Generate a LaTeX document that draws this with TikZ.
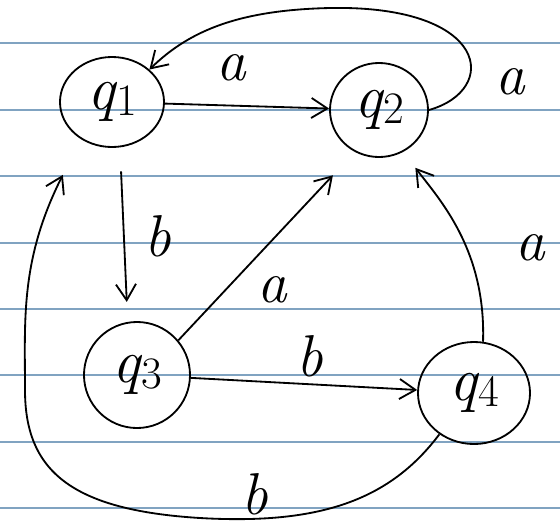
\documentclass[tikz,border=0pt]{standalone}
\usepackage{fontspec}
\usetikzlibrary{arrows.meta,shapes.geometric}

\newcommand{\stname}[1]{q\kern1pt\raisebox{-4pt}{\upshape\fontsize{32}{32}\selectfont #1}}

\begin{document}
\begin{tikzpicture}[
    x=0.025cm, y=-0.025cm,
    >={Straight Barb[length=4mm,width=5mm]},
    line width=1.3pt,
    state/.style={
        draw,
        ellipse,
        inner sep=0pt,
        font=\fontsize{44}{48}\selectfont\itshape
    },
    trans/.style={
        font=\fontsize{42}{46}\selectfont\itshape,
        inner sep=0pt
    }
]

\definecolor{rulecol}{RGB}{128,163,193}

\useasboundingbox (0,0) rectangle (560,529);

\foreach \y in {43,110,176,243,309,375,442,508}
    \draw[rulecol, line width=1.3pt] (0,\y) -- (560,\y);

\node[state, minimum width=2.6cm, minimum height=2.25cm] (q1) at (112,102) {\stname{1}};
\node[state, minimum width=2.45cm, minimum height=2.35cm] (q2) at (379,110) {\stname{2}};
\node[state, minimum width=2.65cm, minimum height=2.65cm] (q3) at (137,375) {\stname{3}};
\node[state, minimum width=2.8cm, minimum height=2.55cm] (q4) at (474,393) {\stname{4}};

\draw[->] (q1) -- (q2);
\draw[->] (q2.east) .. controls (500,90) and (490,5) .. (330,8)
    .. controls (240,10) and (190,30) .. (q1.north east);
\draw[->, shorten <=0.6cm, shorten >=0.5cm] (q1.-80) -- (q3.100);
\draw[->, shorten >=0.8cm] (q3.40) -- (q2.240);
\draw[->] (q3) -- (q4);
\draw[->, shorten >=0.5cm] (q4.80) .. controls (486,250) and (440,200) .. (q2.-60);
\draw[->, shorten >=1cm] (q4.230) .. controls (390,500) and (320,525) .. (200,518)
    .. controls (70,510) and (25,470) .. (25,390)
    .. controls (25,320) and (20,260) .. (q1.230);

\node[trans] (l12) at (231,68)  {a};
\node[trans] (l21) at (510,82)  {a};
\node[trans] (l13) at (158,236) {b};
\node[trans] (l32) at (272,290) {a};
\node[trans] (l34) at (310,356) {b};
\node[trans] (l42) at (530,248) {a};
\node[trans] (l41) at (255,494) {b};

\end{tikzpicture}
\end{document}
